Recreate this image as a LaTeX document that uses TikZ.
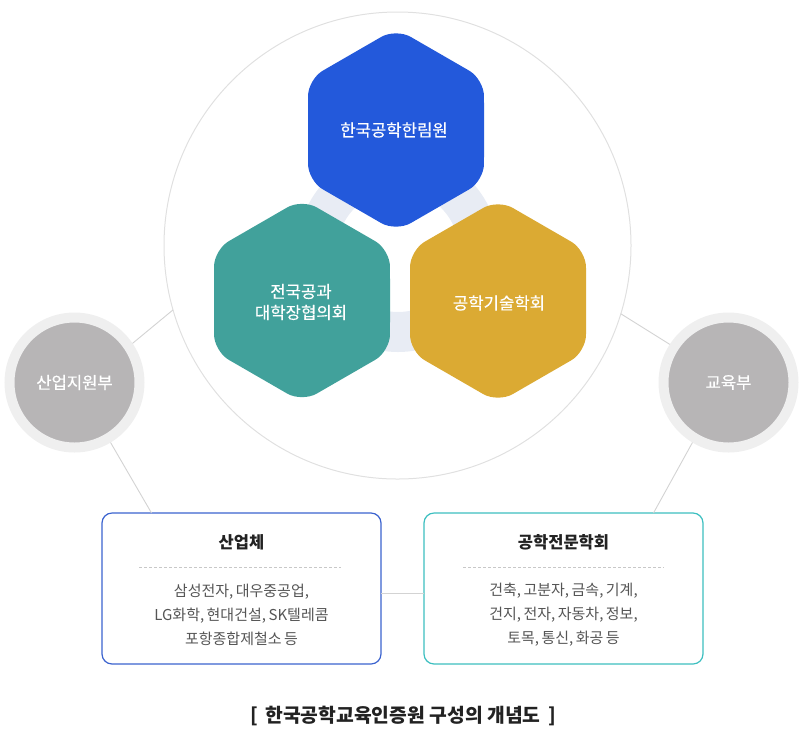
\documentclass[tikz,border=0pt]{standalone}
\usepackage{fontspec}
\setmainfont{Noto Sans CJK KR}
\newfontfamily\krmed[FakeBold=0.35]{Noto Sans CJK KR}
\newcommand\tightsp{\spaceskip 2.5pt plus 1pt\relax}
\usetikzlibrary{calc}
\definecolor{hblue}{HTML}{2359DB}
\definecolor{hteal}{HTML}{41A19B}
\definecolor{hgold}{HTML}{DBAA33}
\definecolor{ringc}{HTML}{E8ECF4}
\definecolor{bigline}{HTML}{E0E0E0}
\definecolor{connc}{HTML}{D3D3D3}
\definecolor{govgrey}{HTML}{B7B5B6}
\definecolor{govring}{HTML}{EFEFEF}
\definecolor{boxblue}{HTML}{3B63CF}
\definecolor{boxteal}{HTML}{3CBFC0}
\definecolor{bodytext}{HTML}{555555}
\definecolor{titletext}{HTML}{222222}
\definecolor{dashc}{HTML}{C8C8C8}
\begin{document}
\begin{tikzpicture}[x=1pt,y=-1pt,
  hexpath/.style={rounded corners=17pt},
  hextext/.style={text=white, align=center, font=\krmed\fontsize{16.7}{21}\selectfont, inner sep=0},
  govc/.style={circle, fill=govgrey, draw=govring, line width=10pt, minimum size=130pt, inner sep=0, text=white, font=\krmed\fontsize{16.6}{18}\selectfont},
  conn/.style={draw=connc, line width=0.9pt},
  boxs/.style={rectangle, rounded corners=10pt, minimum width=279pt, minimum height=151pt, line width=1.2pt, inner sep=0, outer sep=0, fill=white},
  btitle/.style={text=titletext, font=\fontsize{16.5}{18}\selectfont\bfseries, inner sep=0},
  bbody/.style={text=bodytext, align=center, font=\fontsize{15}{24}\selectfont\tightsp, inner sep=0},
  dashl/.style={draw=dashc, dashed, dash pattern=on 3pt off 2pt, line width=0.8pt}
]
\useasboundingbox (0,0) rectangle (803,740);
% big circle
\node[circle, draw=bigline, line width=1pt, minimum size=467pt, inner sep=0, outer sep=0] (big) at (397.5,245.5) {};
% ring behind hexagons
\draw[ringc, line width=40pt] (398,251) circle[radius=81];
% hexagons
\fill[hblue, hexpath, shift={(396,130)}] (88,0) -- (30:101.6) -- (90:101.6) -- (150:101.6) -- (210:101.6) -- (270:101.6) -- (330:101.6) -- cycle;
\fill[hteal, hexpath, shift={(302,300.5)}] (88,0) -- (30:101.6) -- (90:101.6) -- (150:101.6) -- (210:101.6) -- (270:101.6) -- (330:101.6) -- cycle;
\fill[hgold, hexpath, shift={(498,301)}] (88,0) -- (30:101.6) -- (90:101.6) -- (150:101.6) -- (210:101.6) -- (270:101.6) -- (330:101.6) -- cycle;
\node[hextext] (kaea) at (394,130) {한국공학한림원};
\node[hextext] (dean) at (301,302) {전국공과\\대학장협의회};
\node[hextext] (ksea) at (499,303) {공학기술학회};
% government circles
\node[govc] (gov1) at (74.5,382.5) {산업지원부};
\node[govc] (gov2) at (728.5,382.5) {교육부};
% boxes
\node[boxs, draw=boxblue] (box1) at (241.5,588.5) {};
\node[boxs, draw=boxteal] (box2) at (563.5,588.5) {};
% connectors
\draw[conn] (gov1.34.7) -- (big.196.9);
\draw[conn] (gov2.147) -- (big.343.25);
\draw[conn] (gov1.-59.6) -- (box1.140.2);
\draw[conn] (gov2.239.6) -- (box2.40.5);
\draw[conn] (box1.-2.26) -- (box2.182.26);
% box contents
\node[btitle] (t1) at (241.5,542) {산업체};
\draw[dashl] (139,567) -- (341,567);
\node[bbody] (b1) at (241.5,615) {삼성전자, 대우중공업,\\LG화학, 현대건설, SK텔레콤\\포항종합제철소 등};
\node[btitle] (t2) at (563.5,542) {공학전문학회};
\draw[dashl] (463,567) -- (664,567);
\node[bbody] (b2) at (563.5,615) {건축, 고분자, 금속, 기계,\\건지, 전자, 자동차, 정보,\\토목, 통신, 화공 등};
% caption
\node[text=titletext, font=\fontsize{19.3}{22}\selectfont\bfseries, inner sep=0] (cap) at (403,716) {[\, 한국공학교육인증원 구성의 개념도 \,]};
\end{tikzpicture}
\end{document}
